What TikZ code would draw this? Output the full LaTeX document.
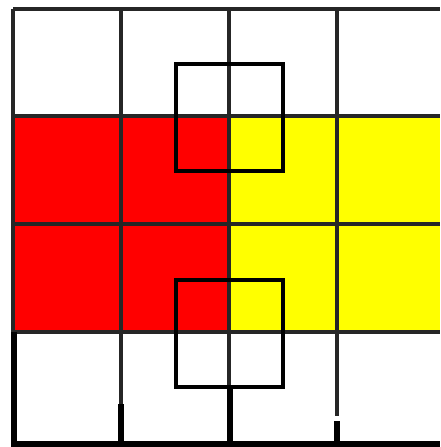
\documentclass[tikz,border=0pt]{standalone}
\definecolor{cellred}{RGB}{255,0,0}
\definecolor{cellyellow}{RGB}{255,255,0}
\tikzset{
  gridline/.style={line width=3.4pt, black!85},
  heavyline/.style={line width=5.5pt, black},
  boxline/.style={line width=3.4pt, black},
}
\begin{document}
\begin{tikzpicture}[x=1pt,y=-1pt]
\useasboundingbox (0,0) rectangle (440,447);
\fill[white] (0,0) rectangle (440,447);
% colored bands
\fill[cellred] (13,116) rectangle (229,332);
\fill[cellyellow] (229,116) rectangle (440,332);
% horizontal grid lines
\draw[gridline] (13,9) -- (440,9);
\draw[gridline] (13,116) -- (440,116);
\draw[gridline] (13,224) -- (440,224);
\draw[gridline] (13,332) -- (440,332);
% vertical grid lines
\draw[gridline] (13,9) -- (13,332);
\draw[gridline] (121,9) -- (121,444);
\draw[gridline] (229,9) -- (229,444);
\draw[gridline] (337,9) -- (337,416);
% heavy lower strokes
\draw[heavyline] (14,332) -- (14,444) -- (440,444);
\draw[heavyline] (121,404) -- (121,444);
\draw[heavyline] (230,387) -- (230,444);
\draw[heavyline] (337,421) -- (337,444);
% small overlay rectangles
\draw[boxline] (176,64) rectangle (283,171);
\draw[boxline] (176,280) rectangle (283,387);
\end{tikzpicture}
\end{document}
